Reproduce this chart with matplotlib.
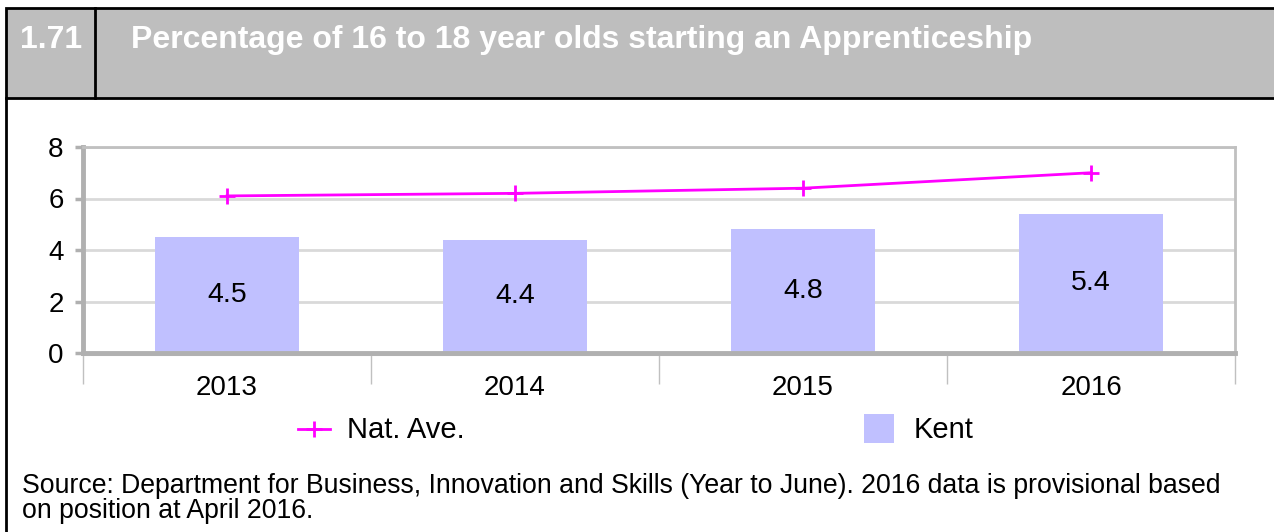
import matplotlib
matplotlib.use("Agg")
from matplotlib import pyplot as plt
from matplotlib.patches import Rectangle
from matplotlib.lines import Line2D

#   Chart data
years = ["2013", "2014", "2015", "2016"]
kent = [4.5, 4.4, 4.8, 5.4]
nat_ave = [6.1, 6.2, 6.4, 7.0]
y_ticks = [0, 2, 4, 6, 8]

title_num = "1.71"
title_text = "Percentage of 16 to 18 year olds starting an Apprenticeship"
source_1 = ("Source: Department for Business, Innovation and Skills (Year to June). "
            "2016 data is provisional based")
source_2 = "on position at April 2016."

plt.rcParams['font.family'] = ['Liberation Sans', 'DejaVu Sans']

W, H = 1274, 532
fig = plt.figure(figsize=(W / 100, H / 100), dpi=100)

#   Background layer in pixel coordinates
bg = fig.add_axes([0, 0, 1, 1])
bg.set_xlim(0, W)
bg.set_ylim(H, 0)
bg.axis('off')
bg.add_patch(Rectangle((6, 8), W, 90, facecolor='#BEBEBE', edgecolor='black', linewidth=2))
bg.plot([95, 95], [8, 98], color='black', lw=2)
bg.plot([6, 6], [98, H + 5], color='black', lw=2)
bg.text(20, 40, title_num, color='white', fontsize=23, fontweight='bold', va='center', ha='left')
bg.text(131, 40, title_text, color='white', fontsize=23, fontweight='bold', va='center', ha='left')
bg.text(22, 486, source_1, fontsize=19.2, va='center', ha='left')
bg.text(22, 511, source_2, fontsize=19.2, va='center', ha='left')

#   Chart axes
x0, x1, ytop, ybot = 83, 1235, 147, 353
ax = fig.add_axes([x0 / W, (H - ybot) / H, (x1 - x0) / W, (ybot - ytop) / H])
ax.set_xlim(-0.5, 3.5)
ax.set_ylim(0, 8)
xs = list(range(len(years)))

ax.bar(xs, kent, width=0.5, color='#C0C0FF', zorder=2)
for x, v in zip(xs, kent):
    ax.text(x, v / 2, str(v), ha='center', va='center', fontsize=20.5, zorder=3)
ax.plot(xs, nat_ave, color='#FF00FF', lw=2, marker='+', markersize=11.5,
        markeredgewidth=2, zorder=4)

ax.set_yticks(y_ticks)
ax.yaxis.grid(True, color='#D9D9D9', lw=2)
ax.set_axisbelow(True)
for s in ['top', 'right']:
    ax.spines[s].set_color('#C0C0C0')
    ax.spines[s].set_linewidth(2)
ax.spines['left'].set_color('#B0B0B0')
ax.spines['left'].set_linewidth(3.5)
ax.spines['bottom'].set_color('#B0B0B0')
ax.spines['bottom'].set_linewidth(3.5)
ax.tick_params(axis='y', colors='#B0B0B0', length=6, width=2.5, labelsize=20,
               labelcolor='black', pad=8)

ax.set_xticks(xs)
ax.set_xticklabels(years)
ax.tick_params(axis='x', which='major', length=0, labelsize=20, pad=16)
ax.set_xticks([-0.5, 0.5, 1.5, 2.5, 3.5], minor=True)
ax.tick_params(axis='x', which='minor', length=22, width=1, color='#C0C0C0')
ax.plot([-0.5, 3.5], [-0.012, -0.012], color='#C8C8C8', lw=1.5, clip_on=False,
        transform=ax.get_xaxis_transform())

#   Legend drawn on the background layer
bg.add_line(Line2D([298, 330], [429, 429], color='#FF00FF', lw=2))
bg.plot([314], [429], marker='+', color='#FF00FF', markersize=11.5, markeredgewidth=2)
bg.text(347, 430, "Nat. Ave.", fontsize=21, va='center', ha='left')
bg.add_patch(Rectangle((864, 414), 30, 29, facecolor='#C0C0FF', edgecolor='none'))
bg.text(914, 430, "Kent", fontsize=21, va='center', ha='left')

fig.savefig("out.png", dpi=100)
